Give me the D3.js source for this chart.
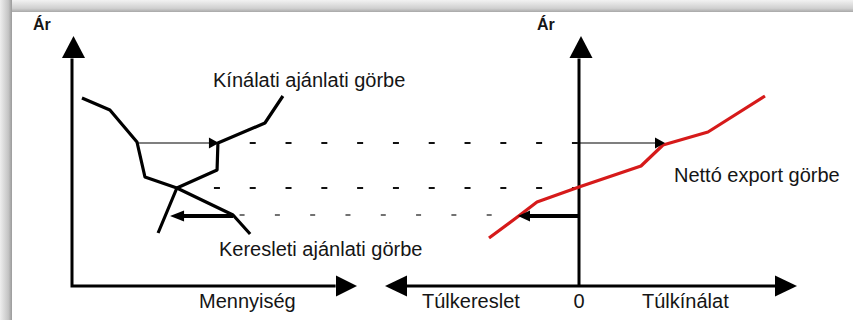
<!DOCTYPE html>
<html>
<head>
<meta charset="utf-8">
<script src="https://cdn.jsdelivr.net/npm/d3@7/dist/d3.min.js"></script>
<style>
  html, body { margin: 0; padding: 0; background: #fff; }
  svg { display: block; }
  text { font-family: "Liberation Sans", Arial, sans-serif; fill: #151515; }
</style>
</head>
<body>
<svg id="chart" width="853" height="320"></svg>
<script>
// Hazai piac: kínálati és keresleti ajánlati görbe (mennyiség, ár)
const supplyQ = [7.40, 6.77, 5.12, 5.09, 3.68, 3.02];
const supplyP = [7.60, 6.52, 5.72, 4.64, 3.92, 2.12];
const demandQ = [0.35, 1.33, 2.28, 2.56, 3.68, 5.65, 6.25];
const demandP = [7.52, 7.04, 5.76, 4.36, 3.92, 2.84, 2.08];

// Nettó export görbe (túlkereslet < 0 < túlkínálat, ár)
const netX = [-4.50, -2.95, -2.10, 0.00, 3.10, 4.20, 6.45, 9.30];
const netP = [1.92, 2.84, 3.36, 3.96, 4.80, 5.64, 6.16, 7.60];

// Árszintek: magas ár, világpiaci ár, alacsony ár
const priceLevels = [5.72, 3.92, 2.84];
// Mennyiségi eltérések a hazai piacon [kezdet, vég] a magas és alacsony árnál
const excessFrom = [2.28, 5.65];
const excessTo = [5.12, 3.44];
// Nettó export a magas és alacsony árnál
const netAtLevel = [4.30, -3.05];

const axisLabels = ["Mennyiség", "Túlkereslet", "0", "Túlkínálat"];
const priceLabel = "Ár";
const curveLabels = ["Kínálati ajánlati görbe", "Keresleti ajánlati görbe", "Nettó export görbe"];

const svg = d3.select("#chart");

// keret árnyéka
const defs = svg.append("defs");
const gTop = defs.append("linearGradient").attr("id", "shTop").attr("x1", 0).attr("y1", 0).attr("x2", 0).attr("y2", 1);
gTop.append("stop").attr("offset", "0%").attr("stop-color", "#f2f2f2");
gTop.append("stop").attr("offset", "70%").attr("stop-color", "#cfcfcf");
gTop.append("stop").attr("offset", "100%").attr("stop-color", "#a8a8a8");
const gLeft = defs.append("linearGradient").attr("id", "shLeft").attr("x1", 0).attr("y1", 0).attr("x2", 1).attr("y2", 0);
gLeft.append("stop").attr("offset", "0%").attr("stop-color", "#eeeeee");
gLeft.append("stop").attr("offset", "70%").attr("stop-color", "#c4c4c4");
gLeft.append("stop").attr("offset", "100%").attr("stop-color", "#9a9a9a");

svg.append("rect").attr("x", 0).attr("y", 0).attr("width", 853).attr("height", 12).attr("fill", "url(#shTop)");
svg.append("rect").attr("x", 0).attr("y", 0).attr("width", 12).attr("height", 320).attr("fill", "url(#shLeft)");
svg.append("rect").attr("x", 12).attr("y", 12).attr("width", 841).attr("height", 308).attr("fill", "#fff");

// skálák
const y = d3.scaleLinear().domain([0, 10]).range([286, 36]);
const xQ = d3.scaleLinear().domain([0, 10]).range([72, 357]);
const xN = d3.scaleLinear().domain([-9.7, 10.9]).range([385, 797]);

const line = d3.line().x(d => d[0]).y(d => d[1]);

function arrowHead(g, tipX, tipY, dir, len, half, color) {
  // dir: "up", "right", "left"
  let pts;
  if (dir === "up") pts = [[tipX, tipY], [tipX - half, tipY + len], [tipX + half, tipY + len]];
  else if (dir === "right") pts = [[tipX, tipY], [tipX - len, tipY - half], [tipX - len, tipY + half]];
  else pts = [[tipX, tipY], [tipX + len, tipY - half], [tipX + len, tipY + half]];
  g.append("path").attr("d", line(pts) + "Z").attr("fill", color || "#000");
}

const axes = svg.append("g");
const axisW = 3;

// bal panel tengelyei
const x0 = xQ(0), y0 = y(0);
axes.append("path").attr("d", line([[x0, y(9.1)], [x0, y0], [xQ(9.25), y0]]))
  .attr("fill", "none").attr("stroke", "#000").attr("stroke-width", axisW).attr("stroke-linejoin", "miter");
arrowHead(axes, x0 + 1.5, y(10), "up", 22, 11.5);
arrowHead(axes, xQ(10), y0, "right", 21, 10.5);

// jobb panel tengelyei
const n0 = xN(0);
axes.append("line").attr("x1", xN(-8.8)).attr("x2", xN(10)).attr("y1", y0).attr("y2", y0)
  .attr("stroke", "#000").attr("stroke-width", axisW);
axes.append("line").attr("x1", n0).attr("x2", n0).attr("y1", y0).attr("y2", y(9.1))
  .attr("stroke", "#000").attr("stroke-width", axisW);
arrowHead(axes, n0 + 2, y(10), "up", 22, 11.5);
arrowHead(axes, xN(-9.7), y0, "left", 22, 10.5);
arrowHead(axes, xN(10.9), y0, "right", 22, 10.5);

// szaggatott árszint-vonalak
const dashes = svg.append("g");
const dashStart = [4.98, 4.98, 5.88];
const dashEnd = [0, 0, -3.3];
priceLevels.forEach((p, i) => {
  dashes.append("line")
    .attr("x1", xQ(dashStart[i])).attr("x2", xN(dashEnd[i]))
    .attr("y1", y(p)).attr("y2", y(p))
    .attr("stroke", i === 2 ? "#444" : "#111")
    .attr("stroke-width", i === 2 ? 1.5 : 2.2)
    .attr("stroke-dasharray", i === 2 ? "5,30.3" : "6,29.8");
});

// görbék
const curves = svg.append("g").attr("fill", "none").attr("stroke-linejoin", "round").attr("stroke-linecap", "butt");
curves.append("path")
  .attr("d", line(supplyQ.map((q, i) => [xQ(q), y(supplyP[i])])))
  .attr("stroke", "#000").attr("stroke-width", 3.2);
curves.append("path")
  .attr("d", line(demandQ.map((q, i) => [xQ(q), y(demandP[i])])))
  .attr("stroke", "#000").attr("stroke-width", 3.2);
curves.append("path")
  .attr("d", line(netX.map((v, i) => [xN(v), y(netP[i])])))
  .attr("stroke", "#d61a1a").attr("stroke-width", 3.2);

// nyilak: magas ár (vékony, túlkínálat), alacsony ár (vastag, túlkereslet)
const arrows = svg.append("g");
const hi = y(priceLevels[0]), lo = y(priceLevels[2]);
arrows.append("line").attr("x1", xQ(excessFrom[0])).attr("x2", xQ(excessTo[0]) - 8)
  .attr("y1", hi).attr("y2", hi).attr("stroke", "#000").attr("stroke-width", 1.2);
arrowHead(arrows, xQ(excessTo[0]) + 1, hi, "right", 10, 5.5);
arrows.append("line").attr("x1", n0).attr("x2", xN(netAtLevel[0]) - 8)
  .attr("y1", hi).attr("y2", hi).attr("stroke", "#000").attr("stroke-width", 1.2);
arrowHead(arrows, xN(netAtLevel[0]), hi, "right", 10, 5.5);

arrows.append("line").attr("x1", xQ(excessFrom[1])).attr("x2", xQ(excessTo[1]) + 10)
  .attr("y1", lo + 1).attr("y2", lo + 1).attr("stroke", "#000").attr("stroke-width", 4);
arrowHead(arrows, xQ(excessTo[1]), lo + 1, "left", 14, 5.5);
arrows.append("line").attr("x1", n0 + 1).attr("x2", xN(netAtLevel[1]) + 10)
  .attr("y1", lo + 1).attr("y2", lo + 1).attr("stroke", "#000").attr("stroke-width", 4);
arrowHead(arrows, xN(netAtLevel[1]), lo + 1, "left", 12, 5.5);

// feliratok
const txt = svg.append("g").attr("font-size", 20);
txt.append("text").attr("x", 33).attr("y", 30).attr("font-size", 16).attr("font-weight", "bold").text(priceLabel);
txt.append("text").attr("x", 537).attr("y", 30).attr("font-size", 16).attr("font-weight", "bold").text(priceLabel);

txt.append("text").attr("x", 213).attr("y", 87).text(curveLabels[0]);
txt.append("text").attr("x", 219).attr("y", 256).text(curveLabels[1]);
txt.append("text").attr("x", 674).attr("y", 182).text(curveLabels[2]);

txt.append("text").attr("x", 199).attr("y", 308).text(axisLabels[0]);
txt.append("text").attr("x", 422).attr("y", 308).text(axisLabels[1]);
txt.append("text").attr("x", n0).attr("y", 308).attr("text-anchor", "middle").text(axisLabels[2]);
txt.append("text").attr("x", 642).attr("y", 308).text(axisLabels[3]);
</script>
</body>
</html>
